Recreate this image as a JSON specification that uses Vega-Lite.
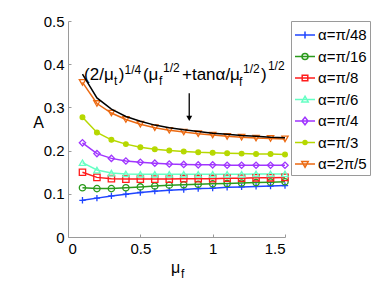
{
  "$schema": "https://vega.github.io/schema/vega-lite/v6.json",
  "width": 217,
  "height": 216,
  "autosize": {"type": "none"},
  "padding": {"left": 68, "top": 21, "right": 103, "bottom": 46},
  "background": "white",
  "config": {
    "view": {"stroke": null},
    "font": "Liberation Sans",
    "axis": {
      "grid": false,
      "domainColor": "#9a9a9a",
      "tickColor": "#9a9a9a",
      "labelColor": "black",
      "labelFont": "Liberation Sans",
      "labelFontSize": 15,
      "titleFont": "Liberation Sans",
      "titleFontSize": 16,
      "titleFontWeight": "normal",
      "titleColor": "black",
      "tickSize": -3,
      "labelPadding": 7
    },
    "legend": {
      "orient": "none", "legendX": 223, "legendY": 0,
      "strokeColor": "#9a9a9a", "fillColor": "white", "cornerRadius": 0,
      "padding": 3, "symbolSize": 400, "symbolStrokeWidth": 1.5,
      "labelFont": "Liberation Sans", "labelFontSize": 15, "labelColor": "black",
      "labelOffset": 2, "rowPadding": 2.5
    }
  },
  "datasets": {
    "series": [
      {"alpha": "α=π/48", "mu": 0.1, "A": 0.085}, {"alpha": "α=π/48", "mu": 0.2, "A": 0.090}, {"alpha": "α=π/48", "mu": 0.3, "A": 0.095}, {"alpha": "α=π/48", "mu": 0.4, "A": 0.099}, {"alpha": "α=π/48", "mu": 0.5, "A": 0.103}, {"alpha": "α=π/48", "mu": 0.6, "A": 0.106}, {"alpha": "α=π/48", "mu": 0.7, "A": 0.108}, {"alpha": "α=π/48", "mu": 0.8, "A": 0.110}, {"alpha": "α=π/48", "mu": 0.9, "A": 0.112}, {"alpha": "α=π/48", "mu": 1.0, "A": 0.113}, {"alpha": "α=π/48", "mu": 1.1, "A": 0.115}, {"alpha": "α=π/48", "mu": 1.2, "A": 0.116}, {"alpha": "α=π/48", "mu": 1.3, "A": 0.117}, {"alpha": "α=π/48", "mu": 1.4, "A": 0.118}, {"alpha": "α=π/48", "mu": 1.5, "A": 0.119},
      {"alpha": "α=π/16", "mu": 0.1, "A": 0.114}, {"alpha": "α=π/16", "mu": 0.2, "A": 0.112}, {"alpha": "α=π/16", "mu": 0.3, "A": 0.112}, {"alpha": "α=π/16", "mu": 0.4, "A": 0.114}, {"alpha": "α=π/16", "mu": 0.5, "A": 0.116}, {"alpha": "α=π/16", "mu": 0.6, "A": 0.118}, {"alpha": "α=π/16", "mu": 0.7, "A": 0.120}, {"alpha": "α=π/16", "mu": 0.8, "A": 0.121}, {"alpha": "α=π/16", "mu": 0.9, "A": 0.122}, {"alpha": "α=π/16", "mu": 1.0, "A": 0.123}, {"alpha": "α=π/16", "mu": 1.1, "A": 0.124}, {"alpha": "α=π/16", "mu": 1.2, "A": 0.125}, {"alpha": "α=π/16", "mu": 1.3, "A": 0.126}, {"alpha": "α=π/16", "mu": 1.4, "A": 0.127}, {"alpha": "α=π/16", "mu": 1.5, "A": 0.128},
      {"alpha": "α=π/8", "mu": 0.1, "A": 0.150}, {"alpha": "α=π/8", "mu": 0.2, "A": 0.138}, {"alpha": "α=π/8", "mu": 0.3, "A": 0.135}, {"alpha": "α=π/8", "mu": 0.4, "A": 0.134}, {"alpha": "α=π/8", "mu": 0.5, "A": 0.134}, {"alpha": "α=π/8", "mu": 0.6, "A": 0.134}, {"alpha": "α=π/8", "mu": 0.7, "A": 0.134}, {"alpha": "α=π/8", "mu": 0.8, "A": 0.135}, {"alpha": "α=π/8", "mu": 0.9, "A": 0.135}, {"alpha": "α=π/8", "mu": 1.0, "A": 0.135}, {"alpha": "α=π/8", "mu": 1.1, "A": 0.136}, {"alpha": "α=π/8", "mu": 1.2, "A": 0.136}, {"alpha": "α=π/8", "mu": 1.3, "A": 0.137}, {"alpha": "α=π/8", "mu": 1.4, "A": 0.137}, {"alpha": "α=π/8", "mu": 1.5, "A": 0.138},
      {"alpha": "α=π/6", "mu": 0.1, "A": 0.172}, {"alpha": "α=π/6", "mu": 0.2, "A": 0.155}, {"alpha": "α=π/6", "mu": 0.3, "A": 0.148}, {"alpha": "α=π/6", "mu": 0.4, "A": 0.146}, {"alpha": "α=π/6", "mu": 0.5, "A": 0.145}, {"alpha": "α=π/6", "mu": 0.6, "A": 0.145}, {"alpha": "α=π/6", "mu": 0.7, "A": 0.145}, {"alpha": "α=π/6", "mu": 0.8, "A": 0.145}, {"alpha": "α=π/6", "mu": 0.9, "A": 0.145}, {"alpha": "α=π/6", "mu": 1.0, "A": 0.145}, {"alpha": "α=π/6", "mu": 1.1, "A": 0.145}, {"alpha": "α=π/6", "mu": 1.2, "A": 0.145}, {"alpha": "α=π/6", "mu": 1.3, "A": 0.146}, {"alpha": "α=π/6", "mu": 1.4, "A": 0.146}, {"alpha": "α=π/6", "mu": 1.5, "A": 0.146},
      {"alpha": "α=π/4", "mu": 0.1, "A": 0.218}, {"alpha": "α=π/4", "mu": 0.2, "A": 0.193}, {"alpha": "α=π/4", "mu": 0.3, "A": 0.182}, {"alpha": "α=π/4", "mu": 0.4, "A": 0.176}, {"alpha": "α=π/4", "mu": 0.5, "A": 0.173}, {"alpha": "α=π/4", "mu": 0.6, "A": 0.171}, {"alpha": "α=π/4", "mu": 0.7, "A": 0.169}, {"alpha": "α=π/4", "mu": 0.8, "A": 0.168}, {"alpha": "α=π/4", "mu": 0.9, "A": 0.167}, {"alpha": "α=π/4", "mu": 1.0, "A": 0.167}, {"alpha": "α=π/4", "mu": 1.1, "A": 0.166}, {"alpha": "α=π/4", "mu": 1.2, "A": 0.166}, {"alpha": "α=π/4", "mu": 1.3, "A": 0.166}, {"alpha": "α=π/4", "mu": 1.4, "A": 0.166}, {"alpha": "α=π/4", "mu": 1.5, "A": 0.166},
      {"alpha": "α=π/3", "mu": 0.1, "A": 0.277}, {"alpha": "α=π/3", "mu": 0.2, "A": 0.242}, {"alpha": "α=π/3", "mu": 0.3, "A": 0.225}, {"alpha": "α=π/3", "mu": 0.4, "A": 0.215}, {"alpha": "α=π/3", "mu": 0.5, "A": 0.208}, {"alpha": "α=π/3", "mu": 0.6, "A": 0.203}, {"alpha": "α=π/3", "mu": 0.7, "A": 0.200}, {"alpha": "α=π/3", "mu": 0.8, "A": 0.198}, {"alpha": "α=π/3", "mu": 0.9, "A": 0.196}, {"alpha": "α=π/3", "mu": 1.0, "A": 0.195}, {"alpha": "α=π/3", "mu": 1.1, "A": 0.194}, {"alpha": "α=π/3", "mu": 1.2, "A": 0.193}, {"alpha": "α=π/3", "mu": 1.3, "A": 0.192}, {"alpha": "α=π/3", "mu": 1.4, "A": 0.192}, {"alpha": "α=π/3", "mu": 1.5, "A": 0.191},
      {"alpha": "α=2π/5", "mu": 0.1, "A": 0.358}, {"alpha": "α=2π/5", "mu": 0.2, "A": 0.309}, {"alpha": "α=2π/5", "mu": 0.3, "A": 0.287}, {"alpha": "α=2π/5", "mu": 0.4, "A": 0.272}, {"alpha": "α=2π/5", "mu": 0.5, "A": 0.261}, {"alpha": "α=2π/5", "mu": 0.6, "A": 0.253}, {"alpha": "α=2π/5", "mu": 0.7, "A": 0.247}, {"alpha": "α=2π/5", "mu": 0.8, "A": 0.243}, {"alpha": "α=2π/5", "mu": 0.9, "A": 0.239}, {"alpha": "α=2π/5", "mu": 1.0, "A": 0.236}, {"alpha": "α=2π/5", "mu": 1.1, "A": 0.233}, {"alpha": "α=2π/5", "mu": 1.2, "A": 0.231}, {"alpha": "α=2π/5", "mu": 1.3, "A": 0.229}, {"alpha": "α=2π/5", "mu": 1.4, "A": 0.228}, {"alpha": "α=2π/5", "mu": 1.5, "A": 0.227}
    ],
    "curve": [
      {"mu": 0.1, "A": 0.377}, {"mu": 0.2, "A": 0.322}, {"mu": 0.3, "A": 0.296}, {"mu": 0.4, "A": 0.279}, {"mu": 0.5, "A": 0.268}, {"mu": 0.6, "A": 0.259}, {"mu": 0.7, "A": 0.253}, {"mu": 0.8, "A": 0.248}, {"mu": 0.9, "A": 0.244}, {"mu": 1.0, "A": 0.240}, {"mu": 1.1, "A": 0.238}, {"mu": 1.2, "A": 0.235}, {"mu": 1.3, "A": 0.233}, {"mu": 1.4, "A": 0.231}, {"mu": 1.5, "A": 0.230}
    ],
    "arrow": [{"mu": 0.838, "A": 0.333, "A2": 0.274}],
    "arrowhead": [{"mu": 0.838, "A": 0.2745}],
    "formula_main": [
      {"mu": 0.111, "A": 0.3634, "t": "(2/μ"},
      {"mu": 0.350, "A": 0.3634, "t": ")"},
      {"mu": 0.518, "A": 0.3634, "t": "(μ"},
      {"mu": 0.788, "A": 0.3634, "t": "+tanα/μ"},
      {"mu": 1.334, "A": 0.3634, "t": ")"}
    ],
    "formula_script": [
      {"mu": 0.318, "A": 0.352, "t": "t"},
      {"mu": 0.391, "A": 0.378, "t": "1/4"},
      {"mu": 0.629, "A": 0.352, "t": "f"},
      {"mu": 0.657, "A": 0.382, "t": "1/2"},
      {"mu": 1.182, "A": 0.350, "t": "f"},
      {"mu": 1.210, "A": 0.379, "t": "1/2"},
      {"mu": 1.382, "A": 0.387, "t": "1/2"},
      {"mu": 0.781, "A": -0.095, "t": "f"}
    ]
  },
  "encoding": {
    "x": {"field": "mu", "type": "quantitative", "scale": {"domain": [0, 1.5], "nice": false, "zero": false},
      "axis": {"values": [0, 0.5, 1, 1.5], "format": "~g", "title": "μ", "titleX": 107, "titleY": 35, "titleBaseline": "alphabetic", "titleAlign": "center"}},
    "y": {"field": "A", "type": "quantitative", "scale": {"domain": [0, 0.5], "nice": false, "zero": false},
      "axis": {"values": [0, 0.1, 0.2, 0.3, 0.4, 0.5], "format": "~g", "title": "A", "titleAngle": 0, "titleX": -30, "titleY": 101, "titleAlign": "center", "titleBaseline": "middle"}}
  },
  "layer": [
    {
      "data": {"name": "series"},
      "mark": {"type": "line", "strokeWidth": 1.5},
      "encoding": {
        "color": {"field": "alpha", "type": "nominal",
          "scale": {"domain": ["α=π/48", "α=π/16", "α=π/8", "α=π/6", "α=π/4", "α=π/3", "α=2π/5"],
                    "range": ["#1f45ff", "#2b9a1c", "#ff1c1c", "#66ffc4", "#a035ff", "#b6d800", "#ec6a12"]},
          "legend": {"title": null, "encode": {"symbols": {"update": {
                "shape": {"signal": "datum.value === 'α=π/48' ? 'M-1,0H1M0,-0.35V0.35' : datum.value === 'α=π/16' ? 'M-1,0H1M-0.3,0A0.3,0.3 0 1,0 0.3,0A0.3,0.3 0 1,0 -0.3,0' : datum.value === 'α=π/8' ? 'M-1,0H1M-0.28,-0.28H0.28V0.28H-0.28Z' : datum.value === 'α=π/6' ? 'M-1,0H1M0,-0.33L0.32,0.25H-0.32Z' : datum.value === 'α=π/4' ? 'M-1,0H1M0,-0.38L0.3,0L0,0.38L-0.3,0Z' : datum.value === 'α=π/3' ? 'M-1,0H1M-0.2,0A0.2,0.2 0 1,0 0.2,0A0.2,0.2 0 1,0 -0.2,0' : 'M-1,0H1M0,0.33L0.32,-0.25H-0.32Z'"},
                "fill": {"signal": "datum.value === 'α=π/3' ? '#b6d800' : 'transparent'"}
              }}}}}
      }
    },
    {
      "data": {"name": "series"},
      "mark": {"type": "point", "filled": false, "strokeWidth": 1.3, "opacity": 1},
      "encoding": {
        "shape": {"condition": [
            {"test": "datum.alpha === 'α=π/48'", "value": "M-1,0H1M0,-1V1"},
            {"test": "datum.alpha === 'α=π/16'", "value": "circle"},
            {"test": "datum.alpha === 'α=π/8'", "value": "square"},
            {"test": "datum.alpha === 'α=π/6'", "value": "triangle-up"},
            {"test": "datum.alpha === 'α=π/4'", "value": "diamond"},
            {"test": "datum.alpha === 'α=π/3'", "value": "circle"}
          ], "value": "triangle-down"},
        "size": {"condition": {"test": "datum.alpha === 'α=π/3'", "value": 22}, "value": 40},
        "fill": {"condition": {"test": "datum.alpha === 'α=π/3'", "value": "#b6d800"}, "value": "transparent"},
        "color": {"field": "alpha", "type": "nominal",
          "scale": {"domain": ["α=π/48", "α=π/16", "α=π/8", "α=π/6", "α=π/4", "α=π/3", "α=2π/5"],
                    "range": ["#1f45ff", "#2b9a1c", "#ff1c1c", "#66ffc4", "#a035ff", "#b6d800", "#ec6a12"]},
          "legend": {"title": null, "encode": {"symbols": {"update": {
                "shape": {"signal": "datum.value === 'α=π/48' ? 'M-1,0H1M0,-0.35V0.35' : datum.value === 'α=π/16' ? 'M-1,0H1M-0.3,0A0.3,0.3 0 1,0 0.3,0A0.3,0.3 0 1,0 -0.3,0' : datum.value === 'α=π/8' ? 'M-1,0H1M-0.28,-0.28H0.28V0.28H-0.28Z' : datum.value === 'α=π/6' ? 'M-1,0H1M0,-0.33L0.32,0.25H-0.32Z' : datum.value === 'α=π/4' ? 'M-1,0H1M0,-0.38L0.3,0L0,0.38L-0.3,0Z' : datum.value === 'α=π/3' ? 'M-1,0H1M-0.2,0A0.2,0.2 0 1,0 0.2,0A0.2,0.2 0 1,0 -0.2,0' : 'M-1,0H1M0,0.33L0.32,-0.25H-0.32Z'"},
                "fill": {"signal": "datum.value === 'α=π/3' ? '#b6d800' : 'transparent'"}
              }}}}}
      }
    },
    {
      "data": {"name": "curve"},
      "mark": {"type": "line", "color": "black", "strokeWidth": 1.5}
    },
    {
      "data": {"name": "arrow"},
      "mark": {"type": "rule", "color": "black", "strokeWidth": 1.3},
      "encoding": {"y2": {"field": "A2"}}
    },
    {
      "data": {"name": "arrowhead"},
      "mark": {"type": "point", "shape": "triangle-down", "filled": true, "color": "black", "size": 35, "opacity": 1}
    },
    {
      "data": {"name": "formula_main"},
      "mark": {"type": "text", "align": "left", "baseline": "alphabetic", "fontSize": 17, "font": "Liberation Sans", "color": "black"},
      "encoding": {"text": {"field": "t"}}
    },
    {
      "data": {"name": "formula_script"},
      "mark": {"type": "text", "align": "left", "baseline": "alphabetic", "fontSize": 12, "font": "Liberation Sans", "color": "black"},
      "encoding": {"text": {"field": "t"}}
    }
  ]
}
